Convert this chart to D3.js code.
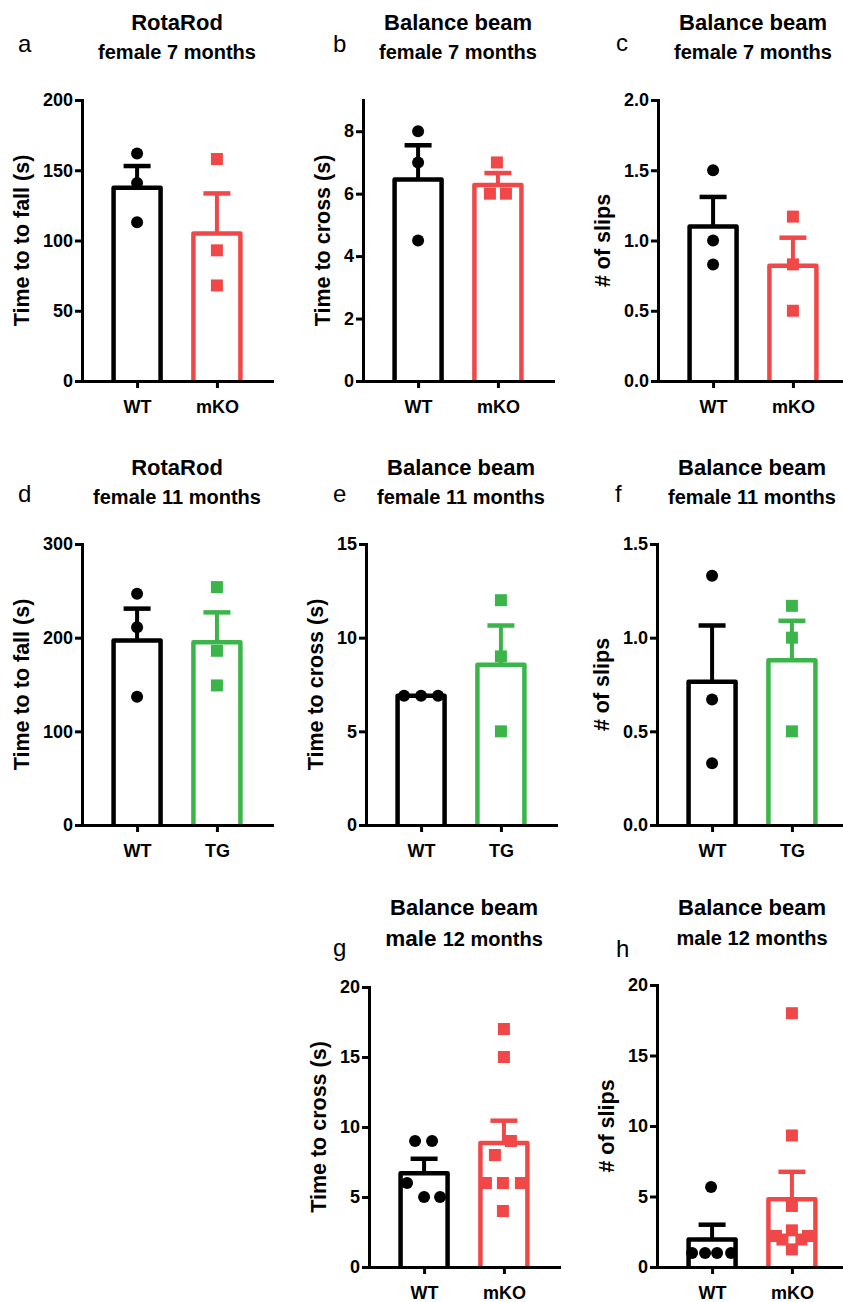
<!DOCTYPE html>
<html>
<head>
<meta charset="utf-8">
<script src="https://cdn.jsdelivr.net/npm/d3@7/dist/d3.min.js"></script>
<style>
  html, body { margin: 0; padding: 0; background: #fff; }
  svg { display: block; }
</style>
</head>
<body>
<div id="chart"></div>
<script>
// ---- data -------------------------------------------------------------
const catsKO = ["WT", "mKO"];
const catsTG = ["WT", "TG"];

// a: RotaRod, female 7 months
const aWT = [162, 141, 113];
const aKO = [158, 93, 68];
const aMean = [137.5, 105];
const aSem = [15.5, 28.5];
const aTicks = [0, 50, 100, 150, 200];

// b: Balance beam time, female 7 months
const bWT = [8.0, 7.0, 4.5];
const bKO = [7.0, 6.0, 6.0];
const bMean = [6.45, 6.28];
const bSem = [1.1, 0.38];
const bTicks = [0, 2, 4, 6, 8];

// c: Balance beam slips, female 7 months
const cWT = [1.5, 1.0, 0.83];
const cKO = [1.17, 0.83, 0.5];
const cMean = [1.1, 0.82];
const cSem = [0.21, 0.2];
const cTicks = [0, 0.5, 1.0, 1.5, 2.0];

// d: RotaRod, female 11 months
const dWT = [247, 211, 137];
const dTG = [254, 186, 149];
const dMean = [197, 195];
const dSem = [34, 32];
const dTicks = [0, 100, 200, 300];

// e: Balance beam time, female 11 months
const eWT = [6.9, 6.9, 6.9];
const eTG = [12, 9, 5];
const eMean = [6.9, 8.55];
const eSem = [0, 2.1];
const eTicks = [0, 5, 10, 15];

// f: Balance beam slips, female 11 months
const fWT = [1.33, 0.67, 0.33];
const fTG = [1.17, 1.0, 0.5];
const fMean = [0.765, 0.88];
const fSem = [0.3, 0.21];
const fTicks = [0, 0.5, 1.0, 1.5];

// g: Balance beam time, male 12 months
const gWT = [9, 9, 6, 5, 5];
const gKO = [17, 15, 9, 8, 6, 6, 6, 4];
const gMean = [6.7, 8.85];
const gSem = [1.03, 1.6];
const gTicks = [0, 5, 10, 15, 20];

// h: Balance beam slips, male 12 months
const hWT = [5.67, 1, 1, 1, 1];
const hKO = [18, 9.33, 4.33, 2.6, 2.2, 2.2, 1.95, 1.95, 1.25];
const hMean = [1.95, 4.8];
const hSem = [1.05, 1.95];
const hTicks = [0, 5, 10, 15, 20];

// ---- styling ----------------------------------------------------------
const BLACK = "#000000";
const RED = "#f04848";
const GREEN = "#3bb54a";
const FONT = "'Liberation Sans', Arial, Helvetica, sans-serif";

// ---- layout: one entry per panel -------------------------------------
const panels = [
  { letter: "a", lx: 18, ly: 52, title: "RotaRod", sub: [["female 7 months", 20]], tY: 30, sY: 59,
    ylabel: "Time to to fall (s)", cats: catsKO, pts: [aWT, aKO], mean: aMean, sem: aSem,
    ticks: aTicks, fmt: d3.format("d"), ymax: 200, axisX: 82, y0: 381, yTop: 100,
    colors: [BLACK, RED], dx: [[0, 0, 0], [0, 0, 0]] },
  { letter: "b", lx: 333, ly: 52, title: "Balance beam", sub: [["female 7 months", 20]], tY: 30, sY: 59,
    ylabel: "Time to cross (s)", cats: catsKO, pts: [bWT, bKO], mean: bMean, sem: bSem,
    ticks: bTicks, fmt: d3.format("d"), ymax: 9, axisX: 363, y0: 381, yTop: 100,
    colors: [BLACK, RED], dx: [[0, 0, 0], [-1, -8, 8]] },
  { letter: "c", lx: 616, ly: 51, title: "Balance beam", sub: [["female 7 months", 20]], tY: 30, sY: 59,
    ylabel: "# of slips", cats: catsKO, pts: [cWT, cKO], mean: cMean, sem: cSem,
    ticks: cTicks, fmt: d3.format(".1f"), ymax: 2, axisX: 658, y0: 381, yTop: 100,
    colors: [BLACK, RED], dx: [[0, 0, 0], [0, 0, 0]] },
  { letter: "d", lx: 18, ly: 502, title: "RotaRod", sub: [["female 11 months", 20]], tY: 475, sY: 504,
    ylabel: "Time to to fall (s)", cats: catsTG, pts: [dWT, dTG], mean: dMean, sem: dSem,
    ticks: dTicks, fmt: d3.format("d"), ymax: 300, axisX: 82, y0: 825, yTop: 544,
    colors: [BLACK, GREEN], dx: [[0, 0, 0], [0, 0, 0]] },
  { letter: "e", lx: 333, ly: 502, title: "Balance beam", sub: [["female 11 months", 20]], tY: 475, sY: 504,
    ylabel: "Time to cross (s)", cats: catsTG, pts: [eWT, eTG], mean: eMean, sem: eSem,
    ticks: eTicks, fmt: d3.format("d"), ymax: 15, axisX: 366, y0: 825, yTop: 544,
    colors: [BLACK, GREEN], dx: [[-17, 0, 17], [0, 0, 0]] },
  { letter: "f", lx: 615, ly: 502, title: "Balance beam", sub: [["female 11 months", 20]], tY: 475, sY: 504,
    ylabel: "# of slips", cats: catsTG, pts: [fWT, fTG], mean: fMean, sem: fSem,
    ticks: fTicks, fmt: d3.format(".1f"), ymax: 1.5, axisX: 657, y0: 825, yTop: 544,
    colors: [BLACK, GREEN], dx: [[0, 0, 0], [0, 0, 0]] },
  { letter: "g", lx: 333, ly: 956, title: "Balance beam", sub: [["male ", 22.5], ["12 months", 20]], tY: 915, sY: 946,
    ylabel: "Time to cross (s)", cats: catsKO, pts: [gWT, gKO], mean: gMean, sem: gSem,
    ticks: gTicks, fmt: d3.format("d"), ymax: 20, axisX: 369, y0: 1267, yTop: 987,
    colors: [BLACK, RED], dx: [[-9, 8, -17, 0, 16], [0, 0, 7, -9, -18, -1, 17, -1]] },
  { letter: "h", lx: 616, ly: 957, title: "Balance beam", sub: [["male 12 months", 20]], tY: 915, sY: 945,
    ylabel: "# of slips", cats: catsKO, pts: [hWT, hKO], mean: hMean, sem: hSem,
    ticks: hTicks, fmt: d3.format("d"), ymax: 20, axisX: 657, y0: 1267, yTop: 985,
    colors: [BLACK, RED], dx: [[-1, -20, -7, 5, 19], [0, 0, 0, 0, -16, 16, -9.5, 9.5, 0]] }
];

const W = 843, H = 1302;
const AXIS_W = 190;       // length of the x axis
const BAR_W = 47;         // bar width (stroke centre line)
const BAR_STROKE = 4.5;
const CAP_W = 27;
const MARK = 12;          // dot diameter / square side

const svg = d3.select("#chart").append("svg")
  .attr("width", W).attr("height", H)
  .style("font-family", FONT);

panels.forEach(p => {
  const g = svg.append("g");

  const x = d3.scalePoint().domain(p.cats)
    .range([p.axisX, p.axisX + AXIS_W]).padding(0.69);
  const y = d3.scaleLinear().domain([0, p.ymax]).range([p.y0, p.yTop]);

  // bars (open at the bottom, resting on the x axis)
  p.cats.forEach((c, i) => {
    const cx = x(c), top = y(p.mean[i]);
    g.append("path")
      .attr("d", `M${cx - BAR_W / 2},${p.y0} V${top} H${cx + BAR_W / 2} V${p.y0}`)
      .attr("fill", "#fff")
      .attr("stroke", p.colors[i])
      .attr("stroke-width", BAR_STROKE)
      .attr("stroke-linejoin", "round");

    // SEM error bar (upper half only)
    const eTop = y(p.mean[i] + p.sem[i]);
    if (p.sem[i] > 0) {
      g.append("line")
        .attr("x1", cx).attr("x2", cx).attr("y1", top).attr("y2", eTop)
        .attr("stroke", p.colors[i]).attr("stroke-width", 4);
      g.append("line")
        .attr("x1", cx - CAP_W / 2).attr("x2", cx + CAP_W / 2)
        .attr("y1", eTop).attr("y2", eTop)
        .attr("stroke", p.colors[i]).attr("stroke-width", BAR_STROKE);
    }
  });

  // individual animals: dots for WT, squares for the mutant group
  p.cats.forEach((c, i) => {
    const cx = x(c);
    const data = p.pts[i].map((v, k) => ({ v, dx: p.dx[i][k] || 0 }));
    if (i === 0) {
      g.selectAll(null).data(data).enter().append("circle")
        .attr("cx", d => cx + d.dx).attr("cy", d => y(d.v))
        .attr("r", MARK / 2).attr("fill", p.colors[i]);
    } else {
      g.selectAll(null).data(data).enter().append("rect")
        .attr("x", d => cx + d.dx - MARK / 2).attr("y", d => y(d.v) - MARK / 2)
        .attr("width", MARK).attr("height", MARK).attr("fill", p.colors[i]);
    }
  });

  // axes
  const ya = g.append("g").attr("transform", `translate(${p.axisX},0)`)
    .call(d3.axisLeft(y).tickValues(p.ticks).tickFormat(p.fmt)
      .tickSize(7).tickPadding(2).tickSizeOuter(0));
  const xa = g.append("g").attr("transform", `translate(0,${p.y0})`)
    .call(d3.axisBottom(x).tickSize(7).tickPadding(12).tickSizeOuter(0));

  [ya, xa].forEach(a => {
    a.select(".domain").attr("stroke", BLACK).attr("stroke-width", 3)
      .attr("stroke-linecap", "square");
    a.selectAll(".tick line").attr("stroke", BLACK).attr("stroke-width", 3);
    a.selectAll(".tick text").attr("fill", BLACK)
      .style("font-family", FONT).style("font-size", "18px").style("font-weight", "bold");
  });

  // y-axis title, placed just left of the tick labels
  const bb = ya.node().getBBox();
  const labX = p.axisX + bb.x - 14;
  const labY = (p.y0 + p.yTop) / 2;
  g.append("text")
    .attr("transform", `translate(${labX},${labY}) rotate(-90)`)
    .attr("text-anchor", "middle")
    .style("font-size", "21.5px").style("font-weight", "bold")
    .attr("fill", BLACK)
    .text(p.ylabel);

  // titles
  const tx = p.axisX + AXIS_W / 2;
  g.append("text").attr("x", tx).attr("y", p.tY).attr("text-anchor", "middle")
    .style("font-size", "22px").style("font-weight", "bold").attr("fill", BLACK)
    .text(p.title);
  const st = g.append("text").attr("x", tx).attr("y", p.sY).attr("text-anchor", "middle")
    .style("font-weight", "bold").attr("fill", BLACK);
  p.sub.forEach(([s, fs]) => {
    st.append("tspan").style("font-size", fs + "px").text(s);
  });

  // panel letter
  g.append("text").attr("x", p.lx).attr("y", p.ly)
    .style("font-size", "24px").attr("fill", BLACK)
    .text(p.letter);
});
</script>
</body>
</html>
